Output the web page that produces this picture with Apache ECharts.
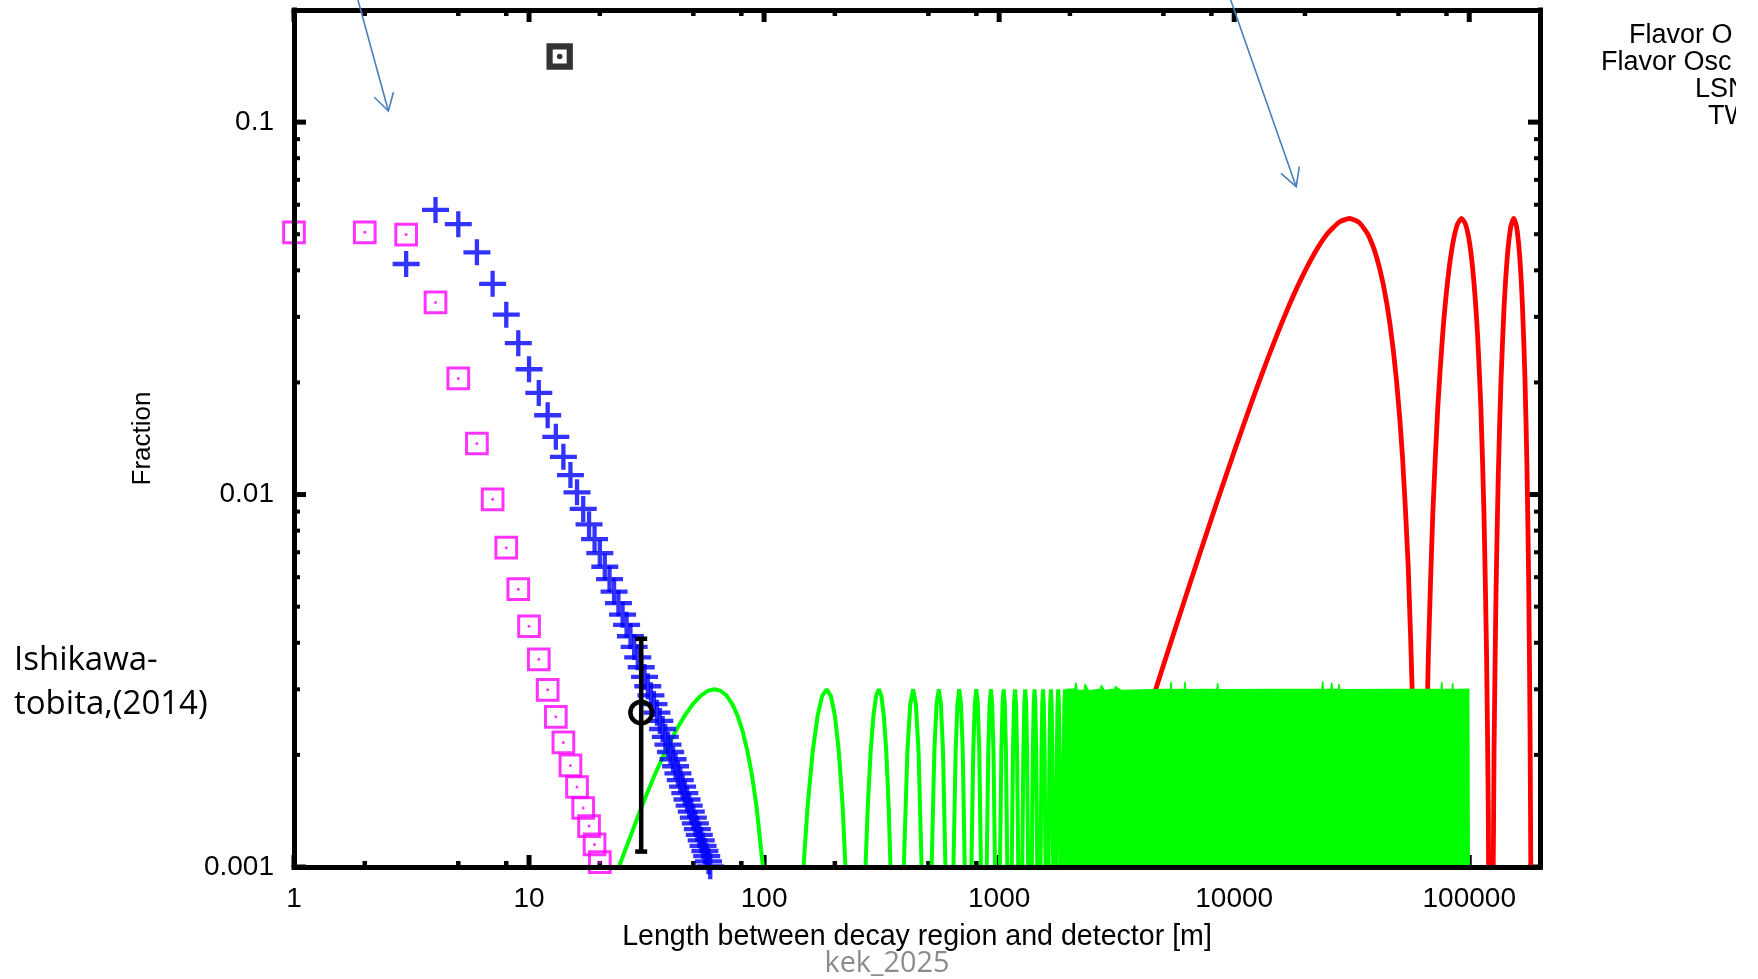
<!DOCTYPE html>
<html>
<head>
<meta charset="utf-8">
<script src="https://cdn.jsdelivr.net/npm/echarts@6/dist/echarts.min.js"></script>
<style>
html,body{margin:0;padding:0;background:#ffffff;}
#c{width:1758px;height:979px;}
</style>
</head>
<body>
<div id="c"></div>
<script>
// ---------------- data ----------------
const xTickValues = [1, 10, 100, 1000, 10000, 100000];
const xTickLabels = ['1', '10', '100', '1000', '10000', '100000'];
const xMinorTicks = [2, 5, 8, 20, 50, 80, 200, 500, 800, 2000, 5000, 8000, 20000, 50000, 80000];
const yTickValues = [0.001, 0.01, 0.1];
const yTickLabels = ['0.001', '0.01', '0.1'];
const yMinorTicks = [0.002, 0.003, 0.004, 0.005, 0.006, 0.007, 0.008, 0.009,
                     0.02, 0.03, 0.04, 0.05, 0.06, 0.07, 0.08, 0.09];

// magenta open squares
const magX = [1, 2, 3, 4, 5, 6, 7, 8, 9, 10, 11, 12, 13, 14, 15, 16, 17, 18, 19, 20];
const magY = [0.0506, 0.0506, 0.0499, 0.0328, 0.0205, 0.01371, 0.00971, 0.0072, 0.00557, 0.00443,
              0.00361, 0.00299, 0.00253, 0.00216, 0.001874, 0.00164, 0.00144, 0.001288, 0.00115, 0.00103];

// blue crosses
const blueX = [3, 4, 5, 6, 7, 8, 9, 10, 11, 12, 13, 14, 15, 16, 17, 18, 19, 20, 21, 22, 23, 24, 25, 26,
               27, 28, 29, 30, 31, 32, 33, 34, 35, 36, 37, 38, 39, 40, 41, 42, 43, 44, 45, 46, 47, 48,
               49, 50, 51, 52, 53, 54, 55, 56, 57, 58, 59];
const blueY = [0.0416, 0.0581, 0.0532, 0.0447, 0.0368, 0.0304, 0.0255, 0.0217, 0.01874, 0.01633,
               0.01429, 0.01263, 0.01128, 0.01014, 0.00915, 0.00832, 0.00759, 0.00696, 0.0064, 0.00593,
               0.00549, 0.00511, 0.00476, 0.00447,
               0.004165, 0.003899, 0.003656, 0.003438, 0.003238, 0.003057, 0.002891, 0.002738, 0.002597,
               0.002467, 0.002347, 0.002236, 0.002132, 0.002036, 0.001947, 0.001864, 0.001785, 0.001712,
               0.001643, 0.001579, 0.001518, 0.001462, 0.001408, 0.001357, 0.001309, 0.001264, 0.00122,
               0.001179, 0.00114, 0.001104, 0.001069, 0.001036, 0.001004];

// black measured point with error bar
const errX = [30];
const errY = [0.0026];
const errLow = [0.0011];
const errHigh = [0.0041];

// black key sample marker
const keyX = [13.5];
const keyY = [0.15];

// green oscillation: individual arches (null = gap below the frame)
const greenL = [
  24.1, 30.18, 34.09, 38.01, 41.92, 45.84, 49.75, 53.67, 57.58, 61.5, 65.42, 69.33, 73.25, 77.16, 81.08, 84.99, 88.91, 92.82, 98.9, null,
  147.1, 153.18, 161.01, 168.84, 176.67, 184.5, 192.33, 200.16, 207.99, 215.82, 221.9, null,
  270.1, 276.18, 284.01, 291.84, 299.67, 307.5, 315.33, 323.16, 330.99, 338.82, 344.9, null,
  393.1, 407.01, 418.75, 430.5, 442.25, 453.99, 467.9, null,
  516.1, 530.01, 541.75, 553.5, 565.25, 576.99, 590.9, null,
  639.1, 653.01, 664.75, 676.5, 688.25, 699.99, 713.9, null,
  762.1, 776.01, 787.75, 799.5, 811.25, 822.99, 836.9, null,
  885.1, 899.01, 910.75, 922.5, 934.25, 945.99, 959.9, null,
  1008.1, 1022.01, 1033.75, 1045.5, 1057.25, 1068.99, 1082.9, null,
  1131.1, 1145.01, 1156.75, 1168.5, 1180.25, 1191.99, 1205.9, null,
  1254.1, 1268.01, 1279.75, 1291.5, 1303.25, 1314.99, 1328.9, null,
  1377.1, 1391.01, 1402.75, 1414.5, 1426.25, 1437.99, 1451.9, null,
  1500.1, 1514.01, 1525.75, 1537.5, 1549.25, 1560.99, 1574.9, null,
  1623.1, 1637.01, 1648.75, 1660.5, 1672.25, 1683.99, 1697.9, null,
  1746.1, 1760.01, 1771.75, 1783.5, 1795.25, 1806.99, 1820.9, null,
  1869.1, 1883.01, 1894.75, 1906.5, 1918.25, 1929.99, 1943.9
];
const greenF = [
  0.001, 0.001456, 0.001755, 0.002044, 0.00231, 0.002545, 0.002738, 0.002882, 0.00297, 0.003, 0.00297, 0.002882, 0.002738, 0.002545, 0.00231, 0.002044, 0.001755, 0.001456, 0.001, null,
  0.001, 0.001456, 0.002044, 0.002545, 0.002882, 0.003, 0.002882, 0.002545, 0.002044, 0.001456, 0.001, null,
  0.001, 0.001456, 0.002044, 0.002545, 0.002882, 0.003, 0.002882, 0.002545, 0.002044, 0.001456, 0.001, null,
  0.001, 0.002044, 0.002738, 0.003, 0.002738, 0.002044, 0.001, null,
  0.001, 0.002044, 0.002738, 0.003, 0.002738, 0.002044, 0.001, null,
  0.001, 0.002044, 0.002738, 0.003, 0.002738, 0.002044, 0.001, null,
  0.001, 0.002044, 0.002738, 0.003, 0.002738, 0.002044, 0.001, null,
  0.001, 0.002044, 0.002738, 0.003, 0.002738, 0.002044, 0.001, null,
  0.001, 0.002044, 0.002738, 0.003, 0.002738, 0.002044, 0.001, null,
  0.001, 0.002044, 0.002738, 0.003, 0.002738, 0.002044, 0.001, null,
  0.001, 0.002044, 0.002738, 0.003, 0.002738, 0.002044, 0.001, null,
  0.001, 0.002044, 0.002738, 0.003, 0.002738, 0.002044, 0.001, null,
  0.001, 0.002044, 0.002738, 0.003, 0.002738, 0.002044, 0.001, null,
  0.001, 0.002044, 0.002738, 0.003, 0.002738, 0.002044, 0.001, null,
  0.001, 0.002044, 0.002738, 0.003, 0.002738, 0.002044, 0.001, null,
  0.001, 0.002044, 0.002738, 0.003, 0.002738, 0.002044, 0.001
];

// green: densely oscillating part, seen as a filled block with a jagged top
const blockL = [1943.9, 1950, 2100, 2120, 2150, 2300, 2320, 2400, 2700, 2720, 2800, 3100, 3120, 3300,
                5360, 5380, 5420, 6140, 6170, 6210, 8450, 8500, 8560, 23600, 23800, 23950, 25800, 26000,
                26200, 27700, 27890, 28100, 76000, 76400, 76800, 84600, 85000, 85400, 99500, 100000, 100000];
const blockF = [0.001, 0.003, 0.003, 0.00312, 0.00298, 0.00298, 0.0031, 0.00297, 0.003, 0.00308, 0.00298,
                0.003, 0.00305, 0.00298, 0.003, 0.00314, 0.00299, 0.003, 0.00314, 0.00299, 0.003, 0.00312,
                0.00299, 0.003, 0.00315, 0.00299, 0.003, 0.00312, 0.00299, 0.003, 0.0031, 0.00299, 0.003,
                0.00314, 0.00299, 0.003, 0.00312, 0.00299, 0.003, 0.00303, 0.001];

// red oscillation (three arches; values below 0.001 run under the frame)
const redL = [2000, 2700, 4000, 5000, 6000, 7000, 8500, 10000, 12000, 14000, 16500, 19000, 22000, 25000, 28000,
              30920, 34000, 37000, 40000, 43000, 46000, 49000, 52000, 55000, 57500, 59500,
              63500, 65000, 67000, 70000, 73500, 77000, 81000, 85000, 89000, 92760, 96500, 100500, 104500,
              108500, 112000, 115500, 118500, 120500, 122000,
              126000, 127500, 130000, 133000, 136500, 140500, 145000, 150000, 154600, 159000, 164000, 168500,
              172500, 176000, 179000, 181500, 183500];
const redF = [0.000567, 0.00103, 0.002244, 0.00348, 0.004963, 0.006679, 0.009652, 0.013041, 0.018063, 0.023481,
              0.03047, 0.037245, 0.044532, 0.05028, 0.053887,
              0.0551, 0.053764, 0.050009, 0.044188, 0.036849, 0.028686, 0.020335, 0.012658, 0.006409, 0.002629, 0.000775,
              0.000392, 0.001409, 0.003702, 0.008941, 0.017174, 0.026716, 0.037671, 0.046969, 0.053114, 0.0551,
              0.053136, 0.047036, 0.037682, 0.026794, 0.017253, 0.008953, 0.003698, 0.001424, 0.0004,
              0.000764, 0.002052, 0.005492, 0.011462, 0.020255, 0.031352, 0.043005, 0.052133, 0.0551, 0.052402,
              0.04344, 0.031873, 0.020809, 0.011945, 0.005853, 0.002261, 0.000576];

const X_MIN = 1, X_MAX = 200000, Y_MIN = 0.001, Y_MAX = 0.2;

// ---------------- chart ----------------
const GP = "'Liberation Sans', Arial, Helvetica, sans-serif";
const OFF = "'Open Sans', 'Noto Sans', sans-serif";

function pickLabel(v, vals, labels) {
  for (let i = 0; i < vals.length; i++) {
    if (Math.abs(Math.log10(v) - Math.log10(vals[i])) < 1e-6) return labels[i];
  }
  return '';
}
function pairs(a, b) {
  return a.map((v, i) => (v === null || b[i] === null) ? [v === null ? '-' : v, '-'] : [v, b[i]]);
}

const xTickData = xTickValues.map(v => [v, Y_MIN, 1]).concat(xMinorTicks.map(v => [v, Y_MIN, 0]));
const yTickData = yTickValues.map(v => [X_MIN, v, 1]).concat(yMinorTicks.map(v => [X_MIN, v, 0]));

function baseAxis(extra) {
  return Object.assign({
    type: 'log', logBase: 10, z: 10,
    axisLine: { show: true, onZero: false, lineStyle: { color: '#000', width: 5, cap: 'square' } },
    axisTick: { show: false }, minorTick: { show: false },
    splitLine: { show: false }, minorSplitLine: { show: false }
  }, extra);
}

const chart = echarts.init(document.getElementById('c'), null, { renderer: 'canvas' });
const option = {
  animation: false,
  backgroundColor: '#ffffff',
  grid: { left: 294, top: 10, right: 218, bottom: 112, containLabel: false, outerBoundsMode: 'none' },
  xAxis: [
    baseAxis({
      min: X_MIN, max: X_MAX, position: 'bottom',
      axisLabel: { show: true, color: '#000', fontFamily: GP, fontSize: 28, margin: 18,
                   showMaxLabel: false, hideOverlap: false,
                   formatter: v => pickLabel(v, xTickValues, xTickLabels) },
      name: 'Length between decay region and detector [m]',
      nameLocation: 'middle', nameGap: 56,
      nameTextStyle: { color: '#000', fontFamily: GP, fontSize: 28.6 }
    }),
    baseAxis({ min: X_MIN, max: X_MAX, position: 'top', axisLabel: { show: false } })
  ],
  yAxis: [
    baseAxis({
      min: Y_MIN, max: Y_MAX, position: 'left',
      axisLabel: { show: true, color: '#000', fontFamily: GP, fontSize: 28, margin: 20,
                   showMaxLabel: false, hideOverlap: false,
                   formatter: v => pickLabel(v, yTickValues, yTickLabels) },
      name: 'Fraction', nameLocation: 'middle', nameGap: 138,
      nameTextStyle: { color: '#000', fontFamily: GP, fontSize: 26 }
    }),
    baseAxis({ min: Y_MIN, max: Y_MAX, position: 'right', axisLabel: { show: false } })
  ],
  series: [
    { // tick marks on bottom & top
      type: 'custom', z: 1, silent: true, clip: false,
      encode: { x: 0, y: 1 },
      data: xTickData,
      renderItem: (params, api) => {
        const cs = params.coordSys;
        const px = api.coord([api.value(0), api.value(1)])[0];
        const major = api.value(2) === 1;
        const len = major ? 12 : 6, w = major ? 5 : 4.5;
        const b = cs.y + cs.height, t = cs.y;
        return { type: 'group', children: [
          { type: 'line', shape: { x1: px, y1: b, x2: px, y2: b - len }, style: { stroke: '#000', lineWidth: w } },
          { type: 'line', shape: { x1: px, y1: t, x2: px, y2: t + len }, style: { stroke: '#000', lineWidth: w } }
        ] };
      }
    },
    { // tick marks on left & right
      type: 'custom', z: 1, silent: true, clip: false,
      encode: { x: 0, y: 1 },
      data: yTickData,
      renderItem: (params, api) => {
        const cs = params.coordSys;
        const py = api.coord([api.value(0), api.value(1)])[1];
        const major = api.value(2) === 1;
        const len = major ? 12 : 6, w = major ? 5 : 4;
        const l = cs.x, r = cs.x + cs.width;
        return { type: 'group', children: [
          { type: 'line', shape: { x1: l, y1: py, x2: l + len, y2: py }, style: { stroke: '#000', lineWidth: w } },
          { type: 'line', shape: { x1: r, y1: py, x2: r - len, y2: py }, style: { stroke: '#000', lineWidth: w } }
        ] };
      }
    },
    {
      name: 'red', type: 'line', z: 2, showSymbol: false, smooth: 0.2, clip: true,
      lineStyle: { color: '#ff0000', width: 4.8 },
      data: pairs(redL, redF)
    },
    {
      name: 'green', type: 'line', z: 3, showSymbol: false, clip: true, connectNulls: false,
      lineStyle: { color: '#00ff00', width: 4 },
      data: pairs(greenL, greenF)
    },
    {
      name: 'green-dense', type: 'line', z: 3, showSymbol: false, clip: true,
      lineStyle: { color: '#00ff00', width: 1.5 },
      areaStyle: { color: '#00ff00', opacity: 1, origin: 'start' },
      data: pairs(blockL, blockF)
    },
    {
      name: 'magenta', type: 'scatter', z: 4, clip: false,
      symbol: 'path://M0,0H237V237H0Z M30,30V207H207V30Z', symbolSize: 23.7,
      itemStyle: { color: '#ff00ff' },
      data: pairs(magX, magY)
    },
    {
      name: 'magenta-dot', type: 'scatter', z: 4, clip: false,
      symbol: 'circle', symbolSize: 3,
      itemStyle: { color: '#ff00ff' },
      data: pairs(magX, magY)
    },
    {
      name: 'blue', type: 'scatter', z: 5, clip: false,
      symbol: 'path://M0,10.85 H27 V15.15 H0 Z M11.35,0 H15.65 V26 H11.35 Z',
      symbolSize: [27, 26], symbolKeepAspect: false,
      itemStyle: { color: '#0000ff' },
      data: pairs(blueX, blueY)
    },
    {
      name: 'key', type: 'scatter', z: 6, clip: false,
      symbol: 'path://M0,0H264V264H0Z M62,62V202H202V62Z', symbolSize: 26.4,
      itemStyle: { color: '#000000' },
      data: pairs(keyX, keyY)
    },
    {
      name: 'key-dot', type: 'scatter', z: 6, clip: false,
      symbol: 'circle', symbolSize: 5.5,
      itemStyle: { color: '#000' },
      data: pairs(keyX, keyY)
    },
    {
      name: 'measured', type: 'custom', z: 6, clip: false,
      encode: { x: 0, y: 1 },
      data: errX.map((x, i) => [x, errY[i], errLow[i], errHigh[i]]),
      renderItem: (params, api) => {
        const c = api.coord([api.value(0), api.value(1)]);
        const lo = api.coord([api.value(0), api.value(2)]);
        const hi = api.coord([api.value(0), api.value(3)]);
        const st = { stroke: '#000', lineWidth: 4.5, fill: null };
        return { type: 'group', children: [
          { type: 'line', shape: { x1: lo[0], y1: lo[1], x2: hi[0], y2: hi[1] }, style: st },
          { type: 'line', shape: { x1: lo[0] - 6, y1: lo[1], x2: lo[0] + 6, y2: lo[1] }, style: st },
          { type: 'line', shape: { x1: hi[0] - 6, y1: hi[1], x2: hi[0] + 6, y2: hi[1] }, style: st },
          { type: 'circle', shape: { cx: c[0], cy: c[1], r: 10.8 }, style: { stroke: '#000', lineWidth: 4.5, fill: null } }
        ] };
      }
    }
  ],
  graphic: [
    // legend text block (cut at the picture's right edge)
    { type: 'text', x: 1629, y: 36, z: 20, style: { text: 'Flavor O', fill: '#000', fontFamily: GP, fontSize: 27, align: 'left', verticalAlign: 'middle' } },
    { type: 'text', x: 1601, y: 63, z: 20, style: { text: 'Flavor Osc', fill: '#000', fontFamily: GP, fontSize: 27, align: 'left', verticalAlign: 'middle' } },
    { type: 'text', x: 1695, y: 90, z: 20, style: { text: 'LSN', fill: '#000', fontFamily: GP, fontSize: 27, align: 'left', verticalAlign: 'middle' } },
    { type: 'text', x: 1708, y: 117, z: 20, style: { text: 'TW', fill: '#000', fontFamily: GP, fontSize: 27, align: 'left', verticalAlign: 'middle' } },
    { type: 'rect', z: 21, shape: { x: 1736, y: 0, width: 30, height: 150 }, style: { fill: '#ffffff' } },
    // slide annotations
    { type: 'text', x: 14, y: 661, z: 20, style: { text: 'Ishikawa-', fill: '#000', fontFamily: OFF, fontSize: 33, align: 'left', verticalAlign: 'middle' } },
    { type: 'text', x: 14, y: 705, z: 20, style: { text: 'tobita,(2014)', fill: '#000', fontFamily: OFF, fontSize: 33, align: 'left', verticalAlign: 'middle' } },
    { type: 'text', x: 887, y: 964, z: 20, style: { text: 'kek_2025', fill: '#8c8c8c', fontFamily: OFF, fontSize: 28.8, align: 'center', verticalAlign: 'middle' } },
    // arrows
    { type: 'line', z: 20, shape: { x1: 355.2, y1: -10, x2: 388.4, y2: 111 }, style: { stroke: '#4a7ebb', lineWidth: 1.6 } },
    { type: 'polyline', z: 20, shape: { points: [[374.3, 97.3], [388.4, 111], [393.4, 92.3]] }, style: { stroke: '#4a7ebb', lineWidth: 1.6, fill: null } },
    { type: 'line', z: 20, shape: { x1: 1227.2, y1: -10, x2: 1296.2, y2: 186.7 }, style: { stroke: '#4a7ebb', lineWidth: 1.6 } },
    { type: 'polyline', z: 20, shape: { points: [[1281, 173.3], [1296.2, 186.7], [1299.3, 166.7]] }, style: { stroke: '#4a7ebb', lineWidth: 1.6, fill: null } }
  ]
};
chart.setOption(option);
</script>
</body>
</html>
